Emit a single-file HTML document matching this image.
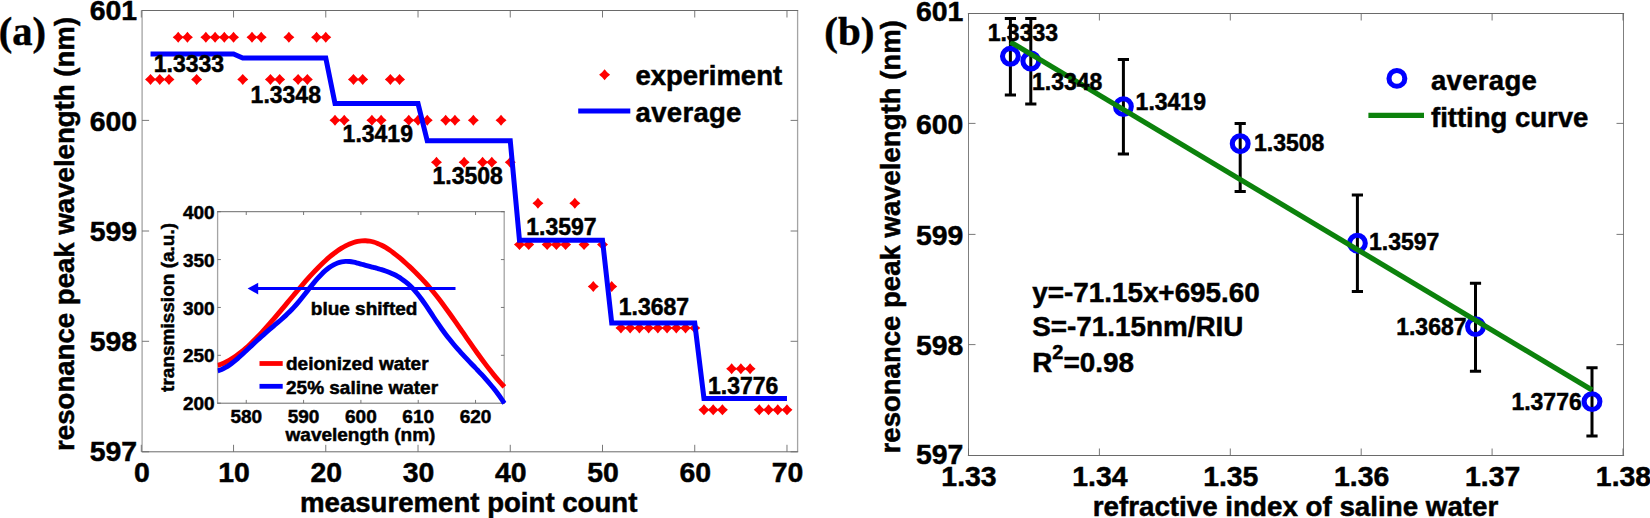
<!DOCTYPE html>
<html lang="en"><head><meta charset="utf-8"><title>Resonance peak wavelength figure</title>
<style>html,body{margin:0;padding:0;background:#fff}body{width:1650px;height:518px;overflow:hidden}svg{display:block}text{font-kerning:none}</style>
</head><body>
<svg width="1650" height="518" viewBox="0 0 1650 518">
<rect width="1650" height="518" fill="#fff"/>
<rect x="142.1" y="10.5" width="655.5" height="441.3" fill="#fff"/>
<path d="M142.1 10.5V451.8M797.6 10.5V451.8" stroke="#a4a4a4" stroke-width="1.3" fill="none"/>
<path d="M141.5 10.5H798.2M141.5 451.8H798.2" stroke="#6a6a6a" stroke-width="1" fill="none"/>
<path d="M141.30 451.8V444.8M141.30 10.5V17.5M233.54 451.8V444.8M233.54 10.5V17.5M325.78 451.8V444.8M325.78 10.5V17.5M418.02 451.8V444.8M418.02 10.5V17.5M510.26 451.8V444.8M510.26 10.5V17.5M602.50 451.8V444.8M602.50 10.5V17.5M694.74 451.8V444.8M694.74 10.5V17.5M786.98 451.8V444.8M786.98 10.5V17.5M142.1 451.80H149.1M797.6 451.80H790.6M142.1 341.30H149.1M797.6 341.30H790.6M142.1 231.00H149.1M797.6 231.00H790.6M142.1 120.40H149.1M797.6 120.40H790.6M142.1 10.50H149.1M797.6 10.50H790.6" stroke="#6a6a6a" stroke-width="0.9" fill="none"/>
<g id="exp">
<polygon points="150.52,73.90 153.05,76.87 156.02,79.40 153.05,81.93 150.52,84.90 147.99,81.93 145.02,79.40 147.99,76.87" fill="#ff0000"/>
<polygon points="159.75,73.90 162.28,76.87 165.25,79.40 162.28,81.93 159.75,84.90 157.22,81.93 154.25,79.40 157.22,76.87" fill="#ff0000"/>
<polygon points="168.97,73.90 171.50,76.87 174.47,79.40 171.50,81.93 168.97,84.90 166.44,81.93 163.47,79.40 166.44,76.87" fill="#ff0000"/>
<polygon points="178.20,31.80 180.73,34.77 183.70,37.30 180.73,39.83 178.20,42.80 175.67,39.83 172.70,37.30 175.67,34.77" fill="#ff0000"/>
<polygon points="187.42,31.80 189.95,34.77 192.92,37.30 189.95,39.83 187.42,42.80 184.89,39.83 181.92,37.30 184.89,34.77" fill="#ff0000"/>
<polygon points="196.64,73.90 199.17,76.87 202.14,79.40 199.17,81.93 196.64,84.90 194.11,81.93 191.14,79.40 194.11,76.87" fill="#ff0000"/>
<polygon points="205.87,31.80 208.40,34.77 211.37,37.30 208.40,39.83 205.87,42.80 203.34,39.83 200.37,37.30 203.34,34.77" fill="#ff0000"/>
<polygon points="215.09,31.80 217.62,34.77 220.59,37.30 217.62,39.83 215.09,42.80 212.56,39.83 209.59,37.30 212.56,34.77" fill="#ff0000"/>
<polygon points="224.32,31.80 226.85,34.77 229.82,37.30 226.85,39.83 224.32,42.80 221.79,39.83 218.82,37.30 221.79,34.77" fill="#ff0000"/>
<polygon points="233.54,31.80 236.07,34.77 239.04,37.30 236.07,39.83 233.54,42.80 231.01,39.83 228.04,37.30 231.01,34.77" fill="#ff0000"/>
<polygon points="242.76,73.90 245.29,76.87 248.26,79.40 245.29,81.93 242.76,84.90 240.23,81.93 237.26,79.40 240.23,76.87" fill="#ff0000"/>
<polygon points="251.99,31.80 254.52,34.77 257.49,37.30 254.52,39.83 251.99,42.80 249.46,39.83 246.49,37.30 249.46,34.77" fill="#ff0000"/>
<polygon points="261.21,31.80 263.74,34.77 266.71,37.30 263.74,39.83 261.21,42.80 258.68,39.83 255.71,37.30 258.68,34.77" fill="#ff0000"/>
<polygon points="270.44,73.90 272.97,76.87 275.94,79.40 272.97,81.93 270.44,84.90 267.91,81.93 264.94,79.40 267.91,76.87" fill="#ff0000"/>
<polygon points="279.66,73.90 282.19,76.87 285.16,79.40 282.19,81.93 279.66,84.90 277.13,81.93 274.16,79.40 277.13,76.87" fill="#ff0000"/>
<polygon points="288.88,31.80 291.41,34.77 294.38,37.30 291.41,39.83 288.88,42.80 286.35,39.83 283.38,37.30 286.35,34.77" fill="#ff0000"/>
<polygon points="298.11,73.90 300.64,76.87 303.61,79.40 300.64,81.93 298.11,84.90 295.58,81.93 292.61,79.40 295.58,76.87" fill="#ff0000"/>
<polygon points="307.33,73.90 309.86,76.87 312.83,79.40 309.86,81.93 307.33,84.90 304.80,81.93 301.83,79.40 304.80,76.87" fill="#ff0000"/>
<polygon points="316.56,31.80 319.09,34.77 322.06,37.30 319.09,39.83 316.56,42.80 314.03,39.83 311.06,37.30 314.03,34.77" fill="#ff0000"/>
<polygon points="325.78,31.80 328.31,34.77 331.28,37.30 328.31,39.83 325.78,42.80 323.25,39.83 320.28,37.30 323.25,34.77" fill="#ff0000"/>
<polygon points="335.00,114.80 337.53,117.77 340.50,120.30 337.53,122.83 335.00,125.80 332.47,122.83 329.50,120.30 332.47,117.77" fill="#ff0000"/>
<polygon points="344.23,114.80 346.76,117.77 349.73,120.30 346.76,122.83 344.23,125.80 341.70,122.83 338.73,120.30 341.70,117.77" fill="#ff0000"/>
<polygon points="353.45,73.90 355.98,76.87 358.95,79.40 355.98,81.93 353.45,84.90 350.92,81.93 347.95,79.40 350.92,76.87" fill="#ff0000"/>
<polygon points="362.68,73.90 365.21,76.87 368.18,79.40 365.21,81.93 362.68,84.90 360.15,81.93 357.18,79.40 360.15,76.87" fill="#ff0000"/>
<polygon points="371.90,114.80 374.43,117.77 377.40,120.30 374.43,122.83 371.90,125.80 369.37,122.83 366.40,120.30 369.37,117.77" fill="#ff0000"/>
<polygon points="381.12,114.80 383.65,117.77 386.62,120.30 383.65,122.83 381.12,125.80 378.59,122.83 375.62,120.30 378.59,117.77" fill="#ff0000"/>
<polygon points="390.35,73.90 392.88,76.87 395.85,79.40 392.88,81.93 390.35,84.90 387.82,81.93 384.85,79.40 387.82,76.87" fill="#ff0000"/>
<polygon points="399.57,73.90 402.10,76.87 405.07,79.40 402.10,81.93 399.57,84.90 397.04,81.93 394.07,79.40 397.04,76.87" fill="#ff0000"/>
<polygon points="408.80,114.80 411.33,117.77 414.30,120.30 411.33,122.83 408.80,125.80 406.27,122.83 403.30,120.30 406.27,117.77" fill="#ff0000"/>
<polygon points="418.02,114.80 420.55,117.77 423.52,120.30 420.55,122.83 418.02,125.80 415.49,122.83 412.52,120.30 415.49,117.77" fill="#ff0000"/>
<polygon points="427.24,114.80 429.77,117.77 432.74,120.30 429.77,122.83 427.24,125.80 424.71,122.83 421.74,120.30 424.71,117.77" fill="#ff0000"/>
<polygon points="436.47,156.80 439.00,159.77 441.97,162.30 439.00,164.83 436.47,167.80 433.94,164.83 430.97,162.30 433.94,159.77" fill="#ff0000"/>
<polygon points="445.69,114.80 448.22,117.77 451.19,120.30 448.22,122.83 445.69,125.80 443.16,122.83 440.19,120.30 443.16,117.77" fill="#ff0000"/>
<polygon points="454.92,114.80 457.45,117.77 460.42,120.30 457.45,122.83 454.92,125.80 452.39,122.83 449.42,120.30 452.39,117.77" fill="#ff0000"/>
<polygon points="464.14,156.80 466.67,159.77 469.64,162.30 466.67,164.83 464.14,167.80 461.61,164.83 458.64,162.30 461.61,159.77" fill="#ff0000"/>
<polygon points="473.36,114.80 475.89,117.77 478.86,120.30 475.89,122.83 473.36,125.80 470.83,122.83 467.86,120.30 470.83,117.77" fill="#ff0000"/>
<polygon points="482.59,156.80 485.12,159.77 488.09,162.30 485.12,164.83 482.59,167.80 480.06,164.83 477.09,162.30 480.06,159.77" fill="#ff0000"/>
<polygon points="491.81,156.80 494.34,159.77 497.31,162.30 494.34,164.83 491.81,167.80 489.28,164.83 486.31,162.30 489.28,159.77" fill="#ff0000"/>
<polygon points="501.04,114.80 503.57,117.77 506.54,120.30 503.57,122.83 501.04,125.80 498.51,122.83 495.54,120.30 498.51,117.77" fill="#ff0000"/>
<polygon points="510.26,156.80 512.79,159.77 515.76,162.30 512.79,164.83 510.26,167.80 507.73,164.83 504.76,162.30 507.73,159.77" fill="#ff0000"/>
<polygon points="519.48,239.10 522.01,242.07 524.98,244.60 522.01,247.13 519.48,250.10 516.95,247.13 513.98,244.60 516.95,242.07" fill="#ff0000"/>
<polygon points="528.71,239.10 531.24,242.07 534.21,244.60 531.24,247.13 528.71,250.10 526.18,247.13 523.21,244.60 526.18,242.07" fill="#ff0000"/>
<polygon points="537.93,197.80 540.46,200.77 543.43,203.30 540.46,205.83 537.93,208.80 535.40,205.83 532.43,203.30 535.40,200.77" fill="#ff0000"/>
<polygon points="547.16,239.10 549.69,242.07 552.66,244.60 549.69,247.13 547.16,250.10 544.63,247.13 541.66,244.60 544.63,242.07" fill="#ff0000"/>
<polygon points="556.38,239.10 558.91,242.07 561.88,244.60 558.91,247.13 556.38,250.10 553.85,247.13 550.88,244.60 553.85,242.07" fill="#ff0000"/>
<polygon points="565.60,239.10 568.13,242.07 571.10,244.60 568.13,247.13 565.60,250.10 563.07,247.13 560.10,244.60 563.07,242.07" fill="#ff0000"/>
<polygon points="574.83,197.80 577.36,200.77 580.33,203.30 577.36,205.83 574.83,208.80 572.30,205.83 569.33,203.30 572.30,200.77" fill="#ff0000"/>
<polygon points="584.05,239.10 586.58,242.07 589.55,244.60 586.58,247.13 584.05,250.10 581.52,247.13 578.55,244.60 581.52,242.07" fill="#ff0000"/>
<polygon points="593.28,281.00 595.81,283.97 598.78,286.50 595.81,289.03 593.28,292.00 590.75,289.03 587.78,286.50 590.75,283.97" fill="#ff0000"/>
<polygon points="602.50,239.10 605.03,242.07 608.00,244.60 605.03,247.13 602.50,250.10 599.97,247.13 597.00,244.60 599.97,242.07" fill="#ff0000"/>
<polygon points="611.72,281.00 614.25,283.97 617.22,286.50 614.25,289.03 611.72,292.00 609.19,289.03 606.22,286.50 609.19,283.97" fill="#ff0000"/>
<polygon points="620.95,322.50 623.48,325.47 626.45,328.00 623.48,330.53 620.95,333.50 618.42,330.53 615.45,328.00 618.42,325.47" fill="#ff0000"/>
<polygon points="630.17,322.50 632.70,325.47 635.67,328.00 632.70,330.53 630.17,333.50 627.64,330.53 624.67,328.00 627.64,325.47" fill="#ff0000"/>
<polygon points="639.40,322.50 641.93,325.47 644.90,328.00 641.93,330.53 639.40,333.50 636.87,330.53 633.90,328.00 636.87,325.47" fill="#ff0000"/>
<polygon points="648.62,322.50 651.15,325.47 654.12,328.00 651.15,330.53 648.62,333.50 646.09,330.53 643.12,328.00 646.09,325.47" fill="#ff0000"/>
<polygon points="657.84,322.50 660.37,325.47 663.34,328.00 660.37,330.53 657.84,333.50 655.31,330.53 652.34,328.00 655.31,325.47" fill="#ff0000"/>
<polygon points="667.07,322.50 669.60,325.47 672.57,328.00 669.60,330.53 667.07,333.50 664.54,330.53 661.57,328.00 664.54,325.47" fill="#ff0000"/>
<polygon points="676.29,322.50 678.82,325.47 681.79,328.00 678.82,330.53 676.29,333.50 673.76,330.53 670.79,328.00 673.76,325.47" fill="#ff0000"/>
<polygon points="685.52,322.50 688.05,325.47 691.02,328.00 688.05,330.53 685.52,333.50 682.99,330.53 680.02,328.00 682.99,325.47" fill="#ff0000"/>
<polygon points="694.74,322.50 697.27,325.47 700.24,328.00 697.27,330.53 694.74,333.50 692.21,330.53 689.24,328.00 692.21,325.47" fill="#ff0000"/>
<polygon points="703.96,404.35 706.49,407.32 709.46,409.85 706.49,412.38 703.96,415.35 701.43,412.38 698.46,409.85 701.43,407.32" fill="#ff0000"/>
<polygon points="713.19,404.35 715.72,407.32 718.69,409.85 715.72,412.38 713.19,415.35 710.66,412.38 707.69,409.85 710.66,407.32" fill="#ff0000"/>
<polygon points="722.41,404.35 724.94,407.32 727.91,409.85 724.94,412.38 722.41,415.35 719.88,412.38 716.91,409.85 719.88,407.32" fill="#ff0000"/>
<polygon points="731.64,363.30 734.17,366.27 737.14,368.80 734.17,371.33 731.64,374.30 729.11,371.33 726.14,368.80 729.11,366.27" fill="#ff0000"/>
<polygon points="740.86,363.30 743.39,366.27 746.36,368.80 743.39,371.33 740.86,374.30 738.33,371.33 735.36,368.80 738.33,366.27" fill="#ff0000"/>
<polygon points="750.08,363.30 752.61,366.27 755.58,368.80 752.61,371.33 750.08,374.30 747.55,371.33 744.58,368.80 747.55,366.27" fill="#ff0000"/>
<polygon points="759.31,404.35 761.84,407.32 764.81,409.85 761.84,412.38 759.31,415.35 756.78,412.38 753.81,409.85 756.78,407.32" fill="#ff0000"/>
<polygon points="768.53,404.35 771.06,407.32 774.03,409.85 771.06,412.38 768.53,415.35 766.00,412.38 763.03,409.85 766.00,407.32" fill="#ff0000"/>
<polygon points="777.76,404.35 780.29,407.32 783.26,409.85 780.29,412.38 777.76,415.35 775.23,412.38 772.26,409.85 775.23,407.32" fill="#ff0000"/>
<polygon points="786.98,404.35 789.51,407.32 792.48,409.85 789.51,412.38 786.98,415.35 784.45,412.38 781.48,409.85 784.45,407.32" fill="#ff0000"/>
</g>
<rect x="217.6" y="211.7" width="286.6" height="191.5" fill="#fff"/>
<path d="M217.6 211.7V403.2M504.2 211.7V403.2" stroke="#a4a4a4" stroke-width="1.3" fill="none"/>
<path d="M217.0 211.7H504.8M217.0 403.2H504.8" stroke="#6a6a6a" stroke-width="1" fill="none"/>
<path d="M246.26 403.2V399.9M246.26 211.7V215.0M303.58 403.2V399.9M303.58 211.7V215.0M360.90 403.2V399.9M360.90 211.7V215.0M418.22 403.2V399.9M418.22 211.7V215.0M475.54 403.2V399.9M475.54 211.7V215.0M217.6 403.20H220.9M504.2 403.20H500.9M217.6 355.32H220.9M504.2 355.32H500.9M217.6 307.45H220.9M504.2 307.45H500.9M217.6 259.57H220.9M504.2 259.57H500.9M217.6 211.70H220.9M504.2 211.70H500.9" stroke="#6a6a6a" stroke-width="0.9" fill="none"/>
<text x="246.26" y="422.80" font-size="19.0" text-anchor="middle" font-family="'Liberation Sans', Arial, Helvetica, sans-serif" font-weight="bold" stroke="#000" stroke-width="0.5" >580</text>
<text x="303.58" y="422.80" font-size="19.0" text-anchor="middle" font-family="'Liberation Sans', Arial, Helvetica, sans-serif" font-weight="bold" stroke="#000" stroke-width="0.5" >590</text>
<text x="360.90" y="422.80" font-size="19.0" text-anchor="middle" font-family="'Liberation Sans', Arial, Helvetica, sans-serif" font-weight="bold" stroke="#000" stroke-width="0.5" >600</text>
<text x="418.22" y="422.80" font-size="19.0" text-anchor="middle" font-family="'Liberation Sans', Arial, Helvetica, sans-serif" font-weight="bold" stroke="#000" stroke-width="0.5" >610</text>
<text x="475.54" y="422.80" font-size="19.0" text-anchor="middle" font-family="'Liberation Sans', Arial, Helvetica, sans-serif" font-weight="bold" stroke="#000" stroke-width="0.5" >620</text>
<text x="214.70" y="410.30" font-size="19.0" text-anchor="end" font-family="'Liberation Sans', Arial, Helvetica, sans-serif" font-weight="bold" stroke="#000" stroke-width="0.5" >200</text>
<text x="214.70" y="362.43" font-size="19.0" text-anchor="end" font-family="'Liberation Sans', Arial, Helvetica, sans-serif" font-weight="bold" stroke="#000" stroke-width="0.5" >250</text>
<text x="214.70" y="314.55" font-size="19.0" text-anchor="end" font-family="'Liberation Sans', Arial, Helvetica, sans-serif" font-weight="bold" stroke="#000" stroke-width="0.5" >300</text>
<text x="214.70" y="266.68" font-size="19.0" text-anchor="end" font-family="'Liberation Sans', Arial, Helvetica, sans-serif" font-weight="bold" stroke="#000" stroke-width="0.5" >350</text>
<text x="214.70" y="218.80" font-size="19.0" text-anchor="end" font-family="'Liberation Sans', Arial, Helvetica, sans-serif" font-weight="bold" stroke="#000" stroke-width="0.5" >400</text>
<text x="360.50" y="440.80" font-size="19.0" text-anchor="middle" font-family="'Liberation Sans', Arial, Helvetica, sans-serif" font-weight="bold" stroke="#000" stroke-width="0.5" >wavelength (nm)</text>
<text transform="translate(173.50,307.45) rotate(-90)" font-size="19.0" text-anchor="middle" font-family="'Liberation Sans', Arial, Helvetica, sans-serif" font-weight="bold" stroke="#000" stroke-width="0.5">transmission (a.u.)</text>
<clipPath id="ci"><rect x="217.6" y="211.7" width="289.1" height="194.0"/></clipPath>
<g clip-path="url(#ci)" fill="none" stroke-width="4.9" stroke-linejoin="round">
<path d="M217.60 365.42C218.27 365.19 220.27 364.57 221.60 364.04C222.93 363.51 224.27 362.91 225.60 362.26C226.93 361.61 228.27 360.89 229.60 360.12C230.93 359.35 232.27 358.51 233.60 357.63C234.93 356.75 236.27 355.81 237.60 354.83C238.93 353.84 240.27 352.80 241.60 351.72C242.93 350.64 244.27 349.51 245.60 348.34C246.93 347.17 248.27 345.97 249.60 344.72C250.93 343.47 252.27 342.18 253.60 340.86C254.93 339.54 256.27 338.19 257.60 336.81C258.93 335.43 260.27 334.01 261.60 332.58C262.93 331.14 264.27 329.68 265.60 328.20C266.93 326.72 268.27 325.21 269.60 323.69C270.93 322.17 272.27 320.62 273.60 319.07C274.93 317.52 276.27 315.95 277.60 314.37C278.93 312.79 280.27 311.20 281.60 309.61C282.93 308.02 284.27 306.42 285.60 304.82C286.93 303.22 288.27 301.62 289.60 300.02C290.93 298.42 292.27 296.83 293.60 295.24C294.93 293.65 296.27 292.06 297.60 290.49C298.93 288.92 300.27 287.36 301.60 285.81C302.93 284.26 304.27 282.72 305.60 281.21C306.93 279.70 308.27 278.20 309.60 276.73C310.93 275.26 312.27 273.81 313.60 272.39C314.93 270.97 316.27 269.57 317.60 268.21C318.93 266.85 320.27 265.52 321.60 264.23C322.93 262.94 324.27 261.67 325.60 260.46C326.93 259.25 328.27 258.08 329.60 256.95C330.93 255.82 332.27 254.73 333.60 253.70C334.93 252.67 336.27 251.68 337.60 250.75C338.93 249.82 340.27 248.94 341.60 248.13C342.93 247.31 344.27 246.55 345.60 245.86C346.93 245.17 348.27 244.53 349.60 243.97C350.93 243.41 352.27 242.91 353.60 242.48C354.93 242.05 356.27 241.70 357.60 241.42C358.93 241.14 360.27 240.94 361.60 240.82C362.93 240.70 364.27 240.65 365.60 240.70C366.93 240.75 368.27 240.87 369.60 241.09C370.93 241.31 372.27 241.62 373.60 242.00C374.93 242.38 376.27 242.86 377.60 243.40C378.93 243.94 380.27 244.55 381.60 245.23C382.93 245.91 384.27 246.66 385.60 247.46C386.93 248.26 388.27 249.14 389.60 250.05C390.93 250.96 392.27 251.93 393.60 252.93C394.93 253.94 396.27 254.99 397.60 256.08C398.93 257.16 400.27 258.29 401.60 259.44C402.93 260.59 404.27 261.76 405.60 262.96C406.93 264.16 408.27 265.38 409.60 266.63C410.93 267.88 412.27 269.15 413.60 270.45C414.93 271.75 416.27 273.07 417.60 274.43C418.93 275.79 420.27 277.17 421.60 278.59C422.93 280.01 424.27 281.45 425.60 282.94C426.93 284.43 428.27 285.95 429.60 287.51C430.93 289.07 432.27 290.67 433.60 292.31C434.93 293.95 436.27 295.63 437.60 297.34C438.93 299.05 440.27 300.79 441.60 302.56C442.93 304.33 444.27 306.13 445.60 307.95C446.93 309.77 448.27 311.62 449.60 313.48C450.93 315.34 452.27 317.23 453.60 319.12C454.93 321.01 456.27 322.92 457.60 324.83C458.93 326.74 460.27 328.67 461.60 330.59C462.93 332.51 464.27 334.45 465.60 336.37C466.93 338.29 468.27 340.21 469.60 342.12C470.93 344.03 472.27 345.95 473.60 347.84C474.93 349.73 476.27 351.61 477.60 353.47C478.93 355.33 480.27 357.17 481.60 358.99C482.93 360.81 484.27 362.61 485.60 364.38C486.93 366.15 488.27 367.88 489.60 369.59C490.93 371.29 492.27 372.98 493.60 374.61C494.93 376.24 496.27 377.84 497.60 379.39C498.93 380.94 500.47 382.66 501.60 383.91C502.73 385.16 503.93 386.41 504.40 386.91" stroke="#ff0000"/>
<path d="M217.60 370.80C218.27 370.58 220.27 370.02 221.60 369.46C222.93 368.90 224.27 368.21 225.60 367.45C226.93 366.69 228.27 365.82 229.60 364.90C230.93 363.97 232.27 362.96 233.60 361.90C234.93 360.84 236.27 359.71 237.60 358.56C238.93 357.41 240.27 356.19 241.60 354.98C242.93 353.77 244.27 352.53 245.60 351.29C246.93 350.05 248.27 348.79 249.60 347.54C250.93 346.29 252.27 345.03 253.60 343.78C254.93 342.53 256.27 341.28 257.60 340.05C258.93 338.82 260.27 337.59 261.60 336.38C262.93 335.17 264.27 333.98 265.60 332.81C266.93 331.64 268.27 330.50 269.60 329.37C270.93 328.24 272.27 327.14 273.60 326.02C274.93 324.90 276.27 323.80 277.60 322.67C278.93 321.54 280.27 320.41 281.60 319.24C282.93 318.07 284.27 316.89 285.60 315.66C286.93 314.43 288.27 313.16 289.60 311.84C290.93 310.51 292.27 309.15 293.60 307.71C294.93 306.27 296.27 304.76 297.60 303.19C298.93 301.62 300.27 299.97 301.60 298.30C302.93 296.63 304.27 294.90 305.60 293.20C306.93 291.50 308.27 289.76 309.60 288.07C310.93 286.38 312.27 284.69 313.60 283.08C314.93 281.47 316.27 279.88 317.60 278.40C318.93 276.92 320.27 275.50 321.60 274.18C322.93 272.86 324.27 271.62 325.60 270.48C326.93 269.34 328.27 268.28 329.60 267.34C330.93 266.40 332.27 265.55 333.60 264.82C334.93 264.09 336.27 263.46 337.60 262.96C338.93 262.45 340.27 262.06 341.60 261.79C342.93 261.52 344.27 261.40 345.60 261.36C346.93 261.32 348.27 261.41 349.60 261.55C350.93 261.69 352.27 261.93 353.60 262.20C354.93 262.47 356.27 262.82 357.60 263.16C358.93 263.50 360.27 263.89 361.60 264.25C362.93 264.61 364.27 264.97 365.60 265.32C366.93 265.67 368.27 266.02 369.60 266.37C370.93 266.72 372.27 267.06 373.60 267.42C374.93 267.78 376.27 268.13 377.60 268.51C378.93 268.89 380.27 269.27 381.60 269.69C382.93 270.11 384.27 270.54 385.60 271.01C386.93 271.48 388.27 271.98 389.60 272.53C390.93 273.08 392.27 273.66 393.60 274.31C394.93 274.96 396.27 275.65 397.60 276.42C398.93 277.19 400.27 278.00 401.60 278.91C402.93 279.82 404.27 280.79 405.60 281.85C406.93 282.92 408.27 284.05 409.60 285.30C410.93 286.55 412.27 287.88 413.60 289.33C414.93 290.78 416.27 292.34 417.60 294.00C418.93 295.66 420.27 297.44 421.60 299.27C422.93 301.10 424.27 303.03 425.60 304.97C426.93 306.92 428.27 308.94 429.60 310.94C430.93 312.94 432.27 315.00 433.60 317.00C434.93 319.00 436.27 321.02 437.60 322.97C438.93 324.92 440.27 326.84 441.60 328.71C442.93 330.57 444.27 332.39 445.60 334.16C446.93 335.93 448.27 337.65 449.60 339.34C450.93 341.02 452.27 342.67 453.60 344.27C454.93 345.87 456.27 347.42 457.60 348.94C458.93 350.46 460.27 351.93 461.60 353.39C462.93 354.85 464.27 356.27 465.60 357.68C466.93 359.09 468.27 360.48 469.60 361.87C470.93 363.26 472.27 364.63 473.60 366.02C474.93 367.41 476.27 368.79 477.60 370.20C478.93 371.61 480.27 373.02 481.60 374.46C482.93 375.90 484.27 377.36 485.60 378.86C486.93 380.36 488.27 381.88 489.60 383.46C490.93 385.04 492.27 386.65 493.60 388.33C494.93 390.01 496.27 391.72 497.60 393.52C498.93 395.31 500.47 397.48 501.60 399.10C502.73 400.73 503.93 402.57 504.40 403.27" stroke="#0000ff"/>
</g>
<path d="M455.5 288.6H256" stroke="#0000ff" stroke-width="3.0" fill="none"/>
<polygon points="247.6,288.6 258.2,282.8 258.2,294.4" fill="#0000ff"/>
<text x="364.10" y="315.20" font-size="19.0" text-anchor="middle" font-family="'Liberation Sans', Arial, Helvetica, sans-serif" font-weight="bold" stroke="#000" stroke-width="0.5" >blue shifted</text>
<path d="M259.5 363.5H282.7" stroke="#ff0000" stroke-width="4.8"/>
<path d="M259.5 386.3H282.7" stroke="#0000ff" stroke-width="4.8"/>
<text x="286.00" y="370.00" font-size="19.0" text-anchor="start" font-family="'Liberation Sans', Arial, Helvetica, sans-serif" font-weight="bold" stroke="#000" stroke-width="0.5" >deionized water</text>
<text x="286.00" y="394.20" font-size="19.0" text-anchor="start" font-family="'Liberation Sans', Arial, Helvetica, sans-serif" font-weight="bold" stroke="#000" stroke-width="0.5" >25% saline water</text>
<polyline points="150.52,53.88 159.75,53.88 168.97,53.88 178.20,53.88 187.42,53.88 196.64,53.88 205.87,53.88 215.09,53.88 224.32,53.88 233.54,53.88 242.76,58.01 251.99,58.01 261.21,58.01 270.44,58.01 279.66,58.01 288.88,58.01 298.11,58.01 307.33,58.01 316.56,58.01 325.78,58.01 335.00,103.54 344.23,103.54 353.45,103.54 362.68,103.54 371.90,103.54 381.12,103.54 390.35,103.54 399.57,103.54 408.80,103.54 418.02,103.54 427.24,140.79 436.47,140.79 445.69,140.79 454.92,140.79 464.14,140.79 473.36,140.79 482.59,140.79 491.81,140.79 501.04,140.79 510.26,140.79 519.48,240.13 528.71,240.13 537.93,240.13 547.16,240.13 556.38,240.13 565.60,240.13 574.83,240.13 584.05,240.13 593.28,240.13 602.50,240.13 611.72,322.91 620.95,322.91 630.17,322.91 639.40,322.91 648.62,322.91 657.84,322.91 667.07,322.91 676.29,322.91 685.52,322.91 694.74,322.91 703.96,398.41 713.19,398.41 722.41,398.41 731.64,398.41 740.86,398.41 750.08,398.41 759.31,398.41 768.53,398.41 777.76,398.41 786.98,398.41" fill="none" stroke="#0000ff" stroke-width="5.0" stroke-linejoin="miter"/>
<text x="153.80" y="72.40" font-size="23.0" text-anchor="start" font-family="'Liberation Sans', Arial, Helvetica, sans-serif" font-weight="bold" stroke="#000" stroke-width="0.5" >1.3333</text>
<text x="250.60" y="103.30" font-size="23.0" text-anchor="start" font-family="'Liberation Sans', Arial, Helvetica, sans-serif" font-weight="bold" stroke="#000" stroke-width="0.5" >1.3348</text>
<text x="342.60" y="142.30" font-size="23.0" text-anchor="start" font-family="'Liberation Sans', Arial, Helvetica, sans-serif" font-weight="bold" stroke="#000" stroke-width="0.5" >1.3419</text>
<text x="432.50" y="183.60" font-size="23.0" text-anchor="start" font-family="'Liberation Sans', Arial, Helvetica, sans-serif" font-weight="bold" stroke="#000" stroke-width="0.5" >1.3508</text>
<text x="526.30" y="234.50" font-size="23.0" text-anchor="start" font-family="'Liberation Sans', Arial, Helvetica, sans-serif" font-weight="bold" stroke="#000" stroke-width="0.5" >1.3597</text>
<text x="618.80" y="315.20" font-size="23.0" text-anchor="start" font-family="'Liberation Sans', Arial, Helvetica, sans-serif" font-weight="bold" stroke="#000" stroke-width="0.5" >1.3687</text>
<text x="708.00" y="394.30" font-size="23.0" text-anchor="start" font-family="'Liberation Sans', Arial, Helvetica, sans-serif" font-weight="bold" stroke="#000" stroke-width="0.5" >1.3776</text>
<polygon points="604.60,69.30 607.13,72.27 610.10,74.80 607.13,77.33 604.60,80.30 602.07,77.33 599.10,74.80 602.07,72.27" fill="#ff0000"/>
<path d="M578.2 111.0H630.3" stroke="#0000ff" stroke-width="5.0"/>
<text x="635.40" y="85.00" font-size="27.5" text-anchor="start" font-family="'Liberation Sans', Arial, Helvetica, sans-serif" font-weight="bold" stroke="#000" stroke-width="0.5" >experiment</text>
<text x="635.60" y="122.20" font-size="27.5" text-anchor="start" font-family="'Liberation Sans', Arial, Helvetica, sans-serif" font-weight="bold" stroke="#000" stroke-width="0.5" letter-spacing="0.3">average</text>
<text x="141.80" y="482.00" font-size="28.4" text-anchor="middle" font-family="'Liberation Sans', Arial, Helvetica, sans-serif" font-weight="bold" stroke="#000" stroke-width="0.5" >0</text>
<text x="234.04" y="482.00" font-size="28.4" text-anchor="middle" font-family="'Liberation Sans', Arial, Helvetica, sans-serif" font-weight="bold" stroke="#000" stroke-width="0.5" >10</text>
<text x="326.28" y="482.00" font-size="28.4" text-anchor="middle" font-family="'Liberation Sans', Arial, Helvetica, sans-serif" font-weight="bold" stroke="#000" stroke-width="0.5" >20</text>
<text x="418.52" y="482.00" font-size="28.4" text-anchor="middle" font-family="'Liberation Sans', Arial, Helvetica, sans-serif" font-weight="bold" stroke="#000" stroke-width="0.5" >30</text>
<text x="510.76" y="482.00" font-size="28.4" text-anchor="middle" font-family="'Liberation Sans', Arial, Helvetica, sans-serif" font-weight="bold" stroke="#000" stroke-width="0.5" >40</text>
<text x="603.00" y="482.00" font-size="28.4" text-anchor="middle" font-family="'Liberation Sans', Arial, Helvetica, sans-serif" font-weight="bold" stroke="#000" stroke-width="0.5" >50</text>
<text x="695.24" y="482.00" font-size="28.4" text-anchor="middle" font-family="'Liberation Sans', Arial, Helvetica, sans-serif" font-weight="bold" stroke="#000" stroke-width="0.5" >60</text>
<text x="787.48" y="482.00" font-size="28.4" text-anchor="middle" font-family="'Liberation Sans', Arial, Helvetica, sans-serif" font-weight="bold" stroke="#000" stroke-width="0.5" >70</text>
<text x="137.00" y="460.80" font-size="28.4" text-anchor="end" font-family="'Liberation Sans', Arial, Helvetica, sans-serif" font-weight="bold" stroke="#000" stroke-width="0.5" >597</text>
<text x="137.00" y="350.80" font-size="28.4" text-anchor="end" font-family="'Liberation Sans', Arial, Helvetica, sans-serif" font-weight="bold" stroke="#000" stroke-width="0.5" >598</text>
<text x="137.00" y="241.40" font-size="28.4" text-anchor="end" font-family="'Liberation Sans', Arial, Helvetica, sans-serif" font-weight="bold" stroke="#000" stroke-width="0.5" >599</text>
<text x="137.00" y="130.90" font-size="28.4" text-anchor="end" font-family="'Liberation Sans', Arial, Helvetica, sans-serif" font-weight="bold" stroke="#000" stroke-width="0.5" >600</text>
<text x="137.00" y="20.10" font-size="28.4" text-anchor="end" font-family="'Liberation Sans', Arial, Helvetica, sans-serif" font-weight="bold" stroke="#000" stroke-width="0.5" >601</text>
<text x="468.70" y="512.20" font-size="27.6" text-anchor="middle" font-family="'Liberation Sans', Arial, Helvetica, sans-serif" font-weight="bold" stroke="#000" stroke-width="0.5" >measurement point count</text>
<text transform="translate(74.00,233.90) rotate(-90)" font-size="27.6" text-anchor="middle" font-family="'Liberation Sans', Arial, Helvetica, sans-serif" font-weight="bold" stroke="#000" stroke-width="0.5">resonance peak wavelength (nm)</text>
<text x="-1.20" y="45.20" font-size="40.5" text-anchor="start" font-family="'Liberation Serif', 'Times New Roman', Times, serif" font-weight="bold" stroke="#000" stroke-width="0.5" >(a)</text>
<rect x="968.5" y="13.5" width="655.0" height="442.0" fill="#fff"/>
<path d="M968.5 13.5V455.5M1623.5 13.5V455.5" stroke="#707070" stroke-width="0.9" fill="none"/>
<path d="M967.9 13.5H1624.1M967.9 455.5H1624.1" stroke="#6a6a6a" stroke-width="1" fill="none"/>
<path d="M968.50 455.5V448.5M968.50 13.5V20.5M1099.40 455.5V448.5M1099.40 13.5V20.5M1230.30 455.5V448.5M1230.30 13.5V20.5M1361.20 455.5V448.5M1361.20 13.5V20.5M1492.10 455.5V448.5M1492.10 13.5V20.5M1623.00 455.5V448.5M1623.00 13.5V20.5M968.5 455.50H975.5M1623.5 455.50H1616.5M968.5 344.60H975.5M1623.5 344.60H1616.5M968.5 234.40H975.5M1623.5 234.40H1616.5M968.5 123.40H975.5M1623.5 123.40H1616.5M968.5 13.50H975.5M1623.5 13.50H1616.5" stroke="#6a6a6a" stroke-width="0.9" fill="none"/>
<path d="M1010.40 18.50V95.00M1004.80 18.50H1016.00M1004.80 95.00H1016.00M1030.80 18.50V104.00M1025.20 18.50H1036.40M1025.20 104.00H1036.40M1123.40 59.50V154.00M1117.80 59.50H1129.00M1117.80 154.00H1129.00M1240.20 123.40V191.60M1234.60 123.40H1245.80M1234.60 191.60H1245.80M1357.40 195.00V291.50M1351.80 195.00H1363.00M1351.80 291.50H1363.00M1475.50 283.20V371.30M1469.90 283.20H1481.10M1469.90 371.30H1481.10M1592.00 367.80V436.10M1586.40 367.80H1597.60M1586.40 436.10H1597.60" stroke="#000" stroke-width="3.0" fill="none"/>
<circle cx="1010.40" cy="56.30" r="7.9" fill="none" stroke="#0000ff" stroke-width="5.1"/>
<circle cx="1030.80" cy="61.00" r="7.9" fill="none" stroke="#0000ff" stroke-width="5.1"/>
<circle cx="1123.40" cy="106.60" r="7.9" fill="none" stroke="#0000ff" stroke-width="5.1"/>
<circle cx="1240.20" cy="143.70" r="7.9" fill="none" stroke="#0000ff" stroke-width="5.1"/>
<circle cx="1357.40" cy="243.20" r="7.9" fill="none" stroke="#0000ff" stroke-width="5.1"/>
<circle cx="1475.50" cy="326.60" r="7.9" fill="none" stroke="#0000ff" stroke-width="5.1"/>
<circle cx="1592.00" cy="401.60" r="7.9" fill="none" stroke="#0000ff" stroke-width="5.1"/>
<path d="M1010.4 41.9L1592.0 390.0" stroke="#0c820c" stroke-width="5.2" fill="none"/>
<text x="987.70" y="40.80" font-size="23.0" text-anchor="start" font-family="'Liberation Sans', Arial, Helvetica, sans-serif" font-weight="bold" stroke="#000" stroke-width="0.5" >1.3333</text>
<text x="1032.00" y="89.50" font-size="23.0" text-anchor="start" font-family="'Liberation Sans', Arial, Helvetica, sans-serif" font-weight="bold" stroke="#000" stroke-width="0.5" >1.3348</text>
<text x="1135.60" y="110.00" font-size="23.0" text-anchor="start" font-family="'Liberation Sans', Arial, Helvetica, sans-serif" font-weight="bold" stroke="#000" stroke-width="0.5" >1.3419</text>
<text x="1254.00" y="150.80" font-size="23.0" text-anchor="start" font-family="'Liberation Sans', Arial, Helvetica, sans-serif" font-weight="bold" stroke="#000" stroke-width="0.5" >1.3508</text>
<text x="1369.00" y="249.50" font-size="23.0" text-anchor="start" font-family="'Liberation Sans', Arial, Helvetica, sans-serif" font-weight="bold" stroke="#000" stroke-width="0.5" >1.3597</text>
<text x="1396.20" y="335.30" font-size="23.0" text-anchor="start" font-family="'Liberation Sans', Arial, Helvetica, sans-serif" font-weight="bold" stroke="#000" stroke-width="0.5" >1.3687</text>
<text x="1511.40" y="410.10" font-size="23.0" text-anchor="start" font-family="'Liberation Sans', Arial, Helvetica, sans-serif" font-weight="bold" stroke="#000" stroke-width="0.5" >1.3776</text>
<circle cx="1396.9" cy="78.4" r="7.9" fill="none" stroke="#0000ff" stroke-width="5.1"/>
<path d="M1368.4 115.3H1424" stroke="#0c820c" stroke-width="5.2"/>
<text x="1431.00" y="90.00" font-size="27.5" text-anchor="start" font-family="'Liberation Sans', Arial, Helvetica, sans-serif" font-weight="bold" stroke="#000" stroke-width="0.5" letter-spacing="0.3">average</text>
<text x="1431.00" y="126.50" font-size="27.5" text-anchor="start" font-family="'Liberation Sans', Arial, Helvetica, sans-serif" font-weight="bold" stroke="#000" stroke-width="0.5" >fitting curve</text>
<text x="1032.20" y="301.80" font-size="27.85" text-anchor="start" font-family="'Liberation Sans', Arial, Helvetica, sans-serif" font-weight="bold" stroke="#000" stroke-width="0.5" >y=-71.15x+695.60</text>
<text x="1032.20" y="335.60" font-size="27.85" text-anchor="start" font-family="'Liberation Sans', Arial, Helvetica, sans-serif" font-weight="bold" stroke="#000" stroke-width="0.5" >S=-71.15nm/RIU</text>
<text x="1032.2" y="371.6" font-size="27.85" font-family="'Liberation Sans', Arial, Helvetica, sans-serif" font-weight="bold" stroke="#000" stroke-width="0.5">R<tspan dy="-12.3" font-size="20">2</tspan><tspan dy="12.3">=0.98</tspan></text>
<text x="969.00" y="485.80" font-size="28.4" text-anchor="middle" font-family="'Liberation Sans', Arial, Helvetica, sans-serif" font-weight="bold" stroke="#000" stroke-width="0.5" >1.33</text>
<text x="1099.90" y="485.80" font-size="28.4" text-anchor="middle" font-family="'Liberation Sans', Arial, Helvetica, sans-serif" font-weight="bold" stroke="#000" stroke-width="0.5" >1.34</text>
<text x="1230.80" y="485.80" font-size="28.4" text-anchor="middle" font-family="'Liberation Sans', Arial, Helvetica, sans-serif" font-weight="bold" stroke="#000" stroke-width="0.5" >1.35</text>
<text x="1361.70" y="485.80" font-size="28.4" text-anchor="middle" font-family="'Liberation Sans', Arial, Helvetica, sans-serif" font-weight="bold" stroke="#000" stroke-width="0.5" >1.36</text>
<text x="1492.60" y="485.80" font-size="28.4" text-anchor="middle" font-family="'Liberation Sans', Arial, Helvetica, sans-serif" font-weight="bold" stroke="#000" stroke-width="0.5" >1.37</text>
<text x="1623.50" y="485.80" font-size="28.4" text-anchor="middle" font-family="'Liberation Sans', Arial, Helvetica, sans-serif" font-weight="bold" stroke="#000" stroke-width="0.5" >1.38</text>
<text x="963.30" y="464.40" font-size="28.4" text-anchor="end" font-family="'Liberation Sans', Arial, Helvetica, sans-serif" font-weight="bold" stroke="#000" stroke-width="0.5" >597</text>
<text x="963.30" y="354.90" font-size="28.4" text-anchor="end" font-family="'Liberation Sans', Arial, Helvetica, sans-serif" font-weight="bold" stroke="#000" stroke-width="0.5" >598</text>
<text x="963.30" y="244.70" font-size="28.4" text-anchor="end" font-family="'Liberation Sans', Arial, Helvetica, sans-serif" font-weight="bold" stroke="#000" stroke-width="0.5" >599</text>
<text x="963.30" y="133.50" font-size="28.4" text-anchor="end" font-family="'Liberation Sans', Arial, Helvetica, sans-serif" font-weight="bold" stroke="#000" stroke-width="0.5" >600</text>
<text x="963.30" y="21.30" font-size="28.4" text-anchor="end" font-family="'Liberation Sans', Arial, Helvetica, sans-serif" font-weight="bold" stroke="#000" stroke-width="0.5" >601</text>
<text x="1295.50" y="516.40" font-size="27.75" text-anchor="middle" font-family="'Liberation Sans', Arial, Helvetica, sans-serif" font-weight="bold" stroke="#000" stroke-width="0.5" >refractive index of saline water</text>
<text transform="translate(900.20,236.80) rotate(-90)" font-size="27.55" text-anchor="middle" font-family="'Liberation Sans', Arial, Helvetica, sans-serif" font-weight="bold" stroke="#000" stroke-width="0.5">resonance peak wavelength (nm)</text>
<text x="824.30" y="45.20" font-size="41" text-anchor="start" font-family="'Liberation Serif', 'Times New Roman', Times, serif" font-weight="bold" stroke="#000" stroke-width="0.5" >(b)</text>
</svg>
</body></html>
